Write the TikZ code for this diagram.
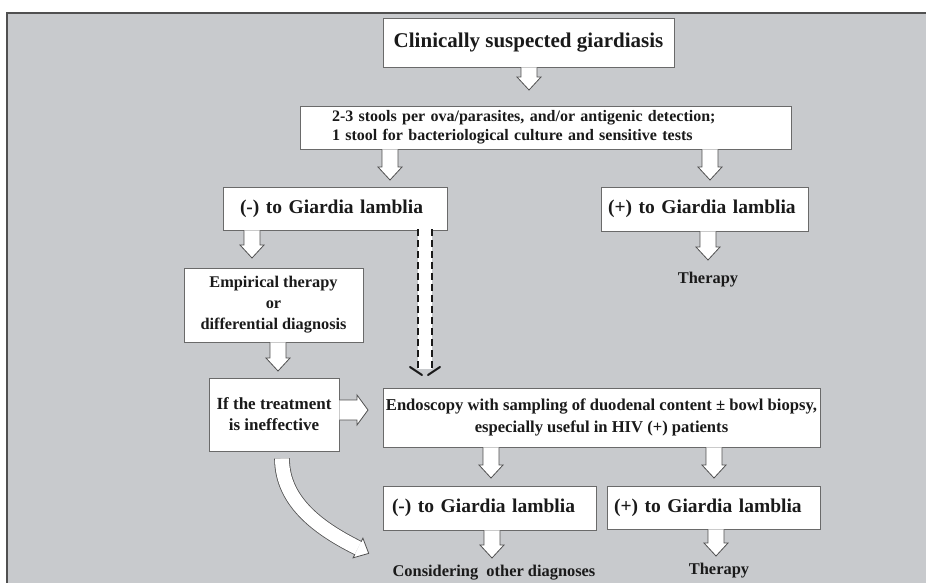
\documentclass[tikz,border=0pt]{standalone}
\usepackage{fontspec}
\setmainfont{Liberation Serif}
\usetikzlibrary{calc}
\definecolor{bg}{HTML}{C8CACD}
\definecolor{edge}{HTML}{6A6A6A}
\definecolor{ink}{HTML}{1A1A1A}
\definecolor{frame}{HTML}{505050}
\tikzset{
  box/.style={draw=edge, line width=0.9pt, fill=white, inner sep=0pt, text=ink, align=center},
  lbox/.style={box, align=left},
  barrow/.style={draw=frame, line width=0.8pt, fill=white, line join=miter},
  lbl/.style={text=ink, font=\bfseries\fontsize{16.4}{20}\selectfont, inner sep=0pt},
  fA/.style={font=\bfseries\fontsize{21}{24}\selectfont},
  fB/.style={font=\bfseries\fontsize{16}{19}\selectfont},
  fC/.style={font=\bfseries\fontsize{19.5}{22}\selectfont},
  fD/.style={font=\bfseries\fontsize{16.3}{21}\selectfont},
  fF/.style={font=\bfseries\fontsize{17}{21}\selectfont},
  fE/.style={font=\bfseries\fontsize{16.6}{22}\selectfont},
  dashline/.style={draw=ink, line width=2.4pt, dash pattern=on 7pt off 4pt},
}
\newcommand\varr[2]{\path[barrow] let \p1=#1, \p2=#2 in
  (\x1-8pt,\y1) -- (\x1-8pt,\y2+13pt) -- (\x1-12pt,\y2+13pt) -- (\x1,\y2)
  -- (\x1+12pt,\y2+13pt) -- (\x1+8pt,\y2+13pt) -- (\x1+8pt,\y1);}
\newcommand\harr[2]{\path[barrow] let \p1=#1, \p2=#2 in
  (\x1,\y1+10pt) -- (\x2-11pt,\y1+10pt) -- (\x2-11pt,\y1+15pt) -- (\x2,\y1)
  -- (\x2-11pt,\y1-15pt) -- (\x2-11pt,\y1-10pt) -- (\x1,\y1-10pt);}
\begin{document}
\begin{tikzpicture}[x=1pt,y=-1pt]
\useasboundingbox (0,0) rectangle (926,583);
\fill[bg] (7,13) rectangle (926,583);
\draw[frame, line width=1.5pt] (7,583) -- (7,13) -- (926,13);

% boxes
\node[box, fA, minimum width=291pt, minimum height=49pt] (A) at (528.5,42.5) {Clinically suspected giardiasis};
\node[lbox, fB, text width=427pt, inner xsep=32pt, minimum height=43pt] (B) at (545.5,127.5)
  {2-3 stools per ova/parasites, and/or antigenic detection;\\1 stool for bacteriological culture and sensitive tests};
\node[lbox, fC, text width=190pt, inner xsep=17pt, minimum height=43pt] (C) at (335,208.5) {(-) to Giardia lamblia};
\node[lbox, fC, text width=193pt, inner xsep=7pt, minimum height=44pt] (D) at (704.5,209) {(+) to Giardia lamblia};
\node[box, fD, minimum width=179pt, minimum height=74pt] (E) at (273.5,305) {Empirical therapy\\or\\differential diagnosis};
\node[box, fF, minimum width=130pt, minimum height=73pt] (F) at (274,414.5) {If the treatment\\is ineffective};
\node[box, fE, minimum width=437pt, minimum height=59pt] (G) at (601.5,417.5)
  {Endoscopy with sampling of duodenal content ± bowl biopsy,\\especially useful in HIV (+) patients};
\node[lbox, fC, text width=195pt, inner xsep=9pt, minimum height=44pt] (H) at (489.5,508) {(-) to Giardia lamblia};
\node[lbox, fC, text width=199pt, inner xsep=7pt, minimum height=43pt] (I) at (713.5,507.5) {(+) to Giardia lamblia};

% plain labels
\node[lbl] (T1) at (708,280) {Therapy};
\node[lbl] (T2) at (494,573) {Considering\ \ other diagnoses};
\node[lbl] (T3) at (719,571) {Therapy};

% arrow tips
\coordinate (tA) at (529,90);
\coordinate (tB1) at (390,180);
\coordinate (tB2) at (710,180);
\coordinate (tC) at (252,258);
\coordinate (tD) at (708,260);
\coordinate (tE) at (278,371);
\coordinate (tF) at (368,410);
\coordinate (tG1) at (491,478);
\coordinate (tG2) at (714,478);
\coordinate (tH) at (492,558);
\coordinate (tI) at (716,556);
\coordinate (dT) at (425,375);

\varr{(A.south -| tA)}{(tA)}
\varr{(B.south -| tB1)}{(tB1)}
\varr{(B.south -| tB2)}{(tB2)}
\varr{(C.south -| tC)}{(tC)}
\varr{(D.south -| tD)}{(tD)}
\varr{(E.south -| tE)}{(tE)}
\harr{(F.east |- tF)}{(tF)}
\varr{(G.south -| tG1)}{(tG1)}
\varr{(G.south -| tG2)}{(tG2)}
\varr{(H.south -| tH)}{(tH)}
\varr{(I.south -| tI)}{(tI)}

% dashed arrow
\fill[white] let \p1=(C.south -| dT), \p2=(dT) in (\x1-7pt,\y1) rectangle (\x1+7pt,\y2+6pt);
\draw[dashline] let \p1=(C.south -| dT), \p2=(dT) in
  (\x1-7pt,\y1+1pt) -- (\x1-7pt,\y2+6pt)
  (\x1+7pt,\y1+1pt) -- (\x1+7pt,\y2+6pt);
\draw[ink, line width=2pt, line cap=round] let \p2=(dT) in
  (\x2-15pt,\y2+8pt) -- (\x2-3pt,\y2)
  (\x2+3pt,\y2) -- (\x2+15pt,\y2+8pt);

% curved arrow
\coordinate (cS) at ($(F.south)+(8,7)$);
\coordinate (cE) at (358,548);
\draw[frame, line width=0.8pt, double=white, double distance=14pt]
  (cS) .. controls ($(cS)+(0,45)$) and ($(cE)+(-36,-18)$) .. (cE);
\path[barrow] (361.1,541.7) -- (362.9,538.2) -- (368.7,553.4) -- (353.1,557.8) -- (354.9,554.3);
\end{tikzpicture}
\end{document}
